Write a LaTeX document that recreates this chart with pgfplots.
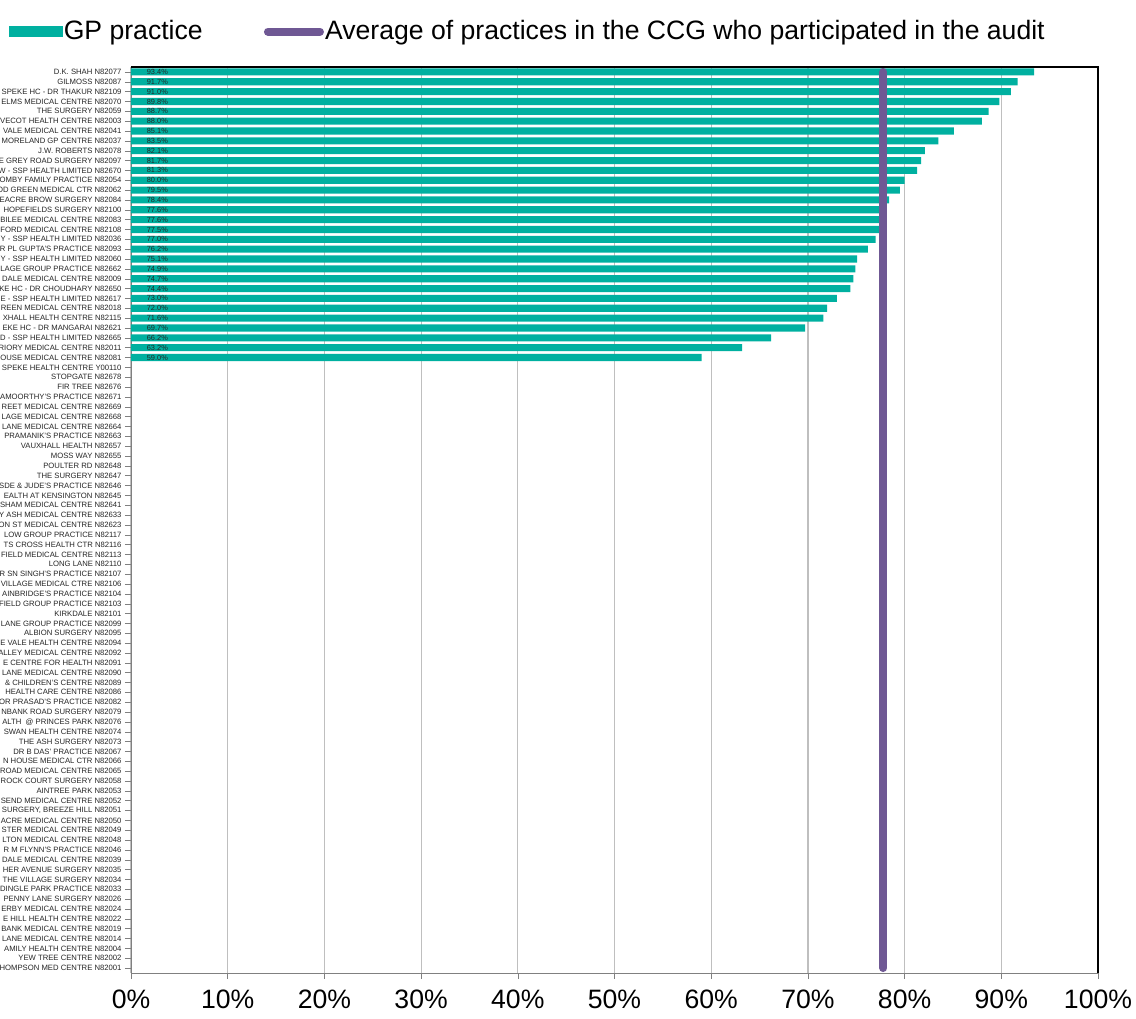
\documentclass[border=0pt]{standalone}
\usepackage{fontspec}
\setmainfont{Liberation Sans}
\usepackage{pgfplots}
\usepackage{pgfplotstable}
\pgfplotsset{compat=1.18}
\definecolor{gpteal}{RGB}{0,176,160}
\definecolor{avgpurple}{RGB}{111,88,148}
\definecolor{gridgray}{RGB}{191,191,191}
\definecolor{axisgray}{RGB}{128,128,128}

% row index (top = 1) and percentage
\pgfplotstableread{
i v lx
1 93.4 1.6
2 91.7 1.6
3 91.0 1.6
4 89.8 1.6
5 88.7 1.6
6 88.0 1.6
7 85.1 1.6
8 83.5 1.6
9 82.1 1.6
10 81.7 1.6
11 81.3 1.6
12 80.0 1.6
13 79.5 1.6
14 78.4 1.6
15 77.6 1.6
16 77.6 1.6
17 77.5 1.6
18 77.0 1.6
19 76.2 1.6
20 75.1 1.6
21 74.9 1.6
22 74.7 1.6
23 74.4 1.6
24 73.0 1.6
25 72.0 1.6
26 71.6 1.6
27 69.7 1.6
28 66.2 1.6
29 63.2 1.6
30 59.0 1.6
}\bars

\begin{document}
\begin{tikzpicture}
\begin{axis}[
  scale only axis,
  width=483.5pt, height=453pt,
  xmin=0, xmax=100, ymin=0.5, ymax=92.5,
  y dir=reverse,
  axis on top=false,
  xtick={0,10,...,100},
  xtick pos=bottom, ytick pos=left,
  xticklabel={\pgfmathprintnumber{\tick}\%},
  /pgf/number format/assume math mode=true,
  xticklabel style={font=\fontsize{13.3}{15}\selectfont, yshift=-1.8pt},
  ytick={1,...,92},
  yticklabel style={font=\fontsize{3.85}{4}\selectfont, text=black!85, xshift=1.8pt},
  tick align=outside,
  major tick length=3pt,
  tick style={axisgray},
  axis line style={axisgray},
  xmajorgrids,
  grid style={gridgray, line width=0.6pt},
  legend columns=2,
  legend style={at={(-0.127,1.039)}, anchor=west, draw=none, fill=none,
    inner sep=0pt, font=\fontsize{13.3}{15}\selectfont,
    nodes={inner sep=0.6pt},
    /tikz/every even column/.append style={column sep=30pt}},
  yticklabels={
{D.K. SHAH N82077},
{GILMOSS N82087},
{SPEKE HC - DR THAKUR N82109},
{ELMS MEDICAL CENTRE N82070},
{THE SURGERY N82059},
{VECOT HEALTH CENTRE N82003},
{VALE MEDICAL CENTRE N82041},
{MORELAND GP CENTRE N82037},
{J.W. ROBERTS N82078},
{E GREY ROAD SURGERY N82097},
{W - SSP HEALTH LIMITED N82670},
{OMBY FAMILY PRACTICE N82054},
{OD GREEN MEDICAL CTR N82062},
{EACRE BROW SURGERY N82084},
{HOPEFIELDS SURGERY N82100},
{BILEE MEDICAL CENTRE N82083},
{FORD MEDICAL CENTRE N82108},
{Y - SSP HEALTH LIMITED N82036},
{R PL GUPTA'S PRACTICE N82093},
{Y - SSP HEALTH LIMITED N82060},
{LAGE GROUP PRACTICE N82662},
{DALE MEDICAL CENTRE N82009},
{KE HC - DR CHOUDHARY N82650},
{E - SSP HEALTH LIMITED N82617},
{REEN MEDICAL CENTRE N82018},
{XHALL HEALTH CENTRE N82115},
{EKE HC - DR MANGARAI N82621},
{D - SSP HEALTH LIMITED N82665},
{RIORY MEDICAL CENTRE N82011},
{OUSE MEDICAL CENTRE N82081},
{SPEKE HEALTH CENTRE Y00110},
{STOPGATE N82678},
{FIR TREE N82676},
{AMOORTHY'S PRACTICE N82671},
{REET MEDICAL CENTRE N82669},
{LAGE MEDICAL CENTRE N82668},
{LANE MEDICAL CENTRE N82664},
{PRAMANIK'S PRACTICE N82663},
{VAUXHALL HEALTH N82657},
{MOSS WAY N82655},
{POULTER RD N82648},
{THE SURGERY N82647},
{SDE \& JUDE'S PRACTICE N82646},
{EALTH AT KENSINGTON N82645},
{SHAM MEDICAL CENTRE N82641},
{Y ASH MEDICAL CENTRE N82633},
{ON ST MEDICAL CENTRE N82623},
{LOW GROUP PRACTICE N82117},
{TS CROSS HEALTH CTR N82116},
{FIELD MEDICAL CENTRE N82113},
{LONG LANE N82110},
{R SN SINGH'S PRACTICE N82107},
{VILLAGE MEDICAL CTRE N82106},
{AINBRIDGE'S PRACTICE N82104},
{FIELD GROUP PRACTICE N82103},
{KIRKDALE N82101},
{LANE GROUP PRACTICE N82099},
{ALBION SURGERY N82095},
{E VALE HEALTH CENTRE N82094},
{ALLEY MEDICAL CENTRE N82092},
{E CENTRE FOR HEALTH N82091},
{LANE MEDICAL CENTRE N82090},
{\& CHILDREN'S CENTRE N82089},
{HEALTH CARE CENTRE N82086},
{OR PRASAD'S PRACTICE N82082},
{NBANK ROAD SURGERY N82079},
{ALTH \ @ PRINCES PARK N82076},
{SWAN HEALTH CENTRE N82074},
{THE ASH SURGERY N82073},
{DR B DAS' PRACTICE N82067},
{N HOUSE MEDICAL CTR N82066},
{ROAD MEDICAL CENTRE N82065},
{ROCK COURT SURGERY N82058},
{AINTREE PARK N82053},
{SEND MEDICAL CENTRE N82052},
{SURGERY, BREEZE HILL N82051},
{ACRE MEDICAL CENTRE N82050},
{STER MEDICAL CENTRE N82049},
{LTON MEDICAL CENTRE N82048},
{R M FLYNN'S PRACTICE N82046},
{DALE MEDICAL CENTRE N82039},
{HER AVENUE SURGERY N82035},
{THE VILLAGE SURGERY N82034},
{DINGLE PARK PRACTICE N82033},
{PENNY LANE SURGERY N82026},
{ERBY MEDICAL CENTRE N82024},
{E HILL HEALTH CENTRE N82022},
{BANK MEDICAL CENTRE N82019},
{LANE MEDICAL CENTRE N82014},
{AMILY HEALTH CENTRE N82004},
{YEW TREE CENTRE N82002},
{HOMPSON MED CENTRE N82001}
  },
]
% practice bars
\addplot[xbar, bar shift=0pt, bar width=0.72, fill=gpteal, draw=none,
  legend image code/.code={\fill[gpteal] (0pt,-2.6pt) rectangle (27pt,2.6pt);}]
  table[x=v, y=i] {\bars};
\addlegendentry{GP practice}
% CCG average
\addplot[avgpurple, line width=4pt, line cap=round,
  legend image code/.code={\draw[avgpurple, line width=4pt, line cap=round] (2pt,0pt) -- (28pt,0pt);}]
  coordinates {(77.8,1) (77.8,92)};
\addlegendentry{Average of practices in the CCG who participated in the audit}
% value labels at the left end of each bar
\addplot[forget plot, only marks, mark=none, point meta=explicit,
  nodes near coords={\pgfmathprintnumber[fixed,fixed zerofill,precision=1]{\pgfplotspointmeta}\%},
  nodes near coords style={anchor=west, inner sep=0pt, text=black!85,
    font=\fontsize{3.7}{4}\selectfont}]
  table[x=lx, y=i, meta=v] {\bars};
\end{axis}
\draw[black, line width=0.9pt] (current axis.north west) -- (current axis.north east) -- (current axis.south east);
\pgfresetboundingbox
\path ([xshift=-65.5pt,yshift=-23pt]current axis.south west) rectangle ([xshift=19pt,yshift=33.5pt]current axis.north east);
\end{tikzpicture}
\end{document}
